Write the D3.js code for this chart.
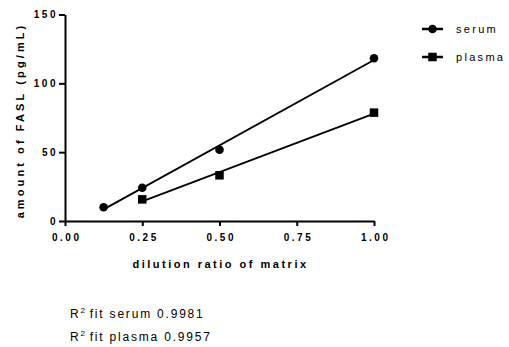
<!DOCTYPE html>
<html>
<head>
<meta charset="utf-8">
<script src="https://cdn.jsdelivr.net/npm/d3@7"></script>
<style>
  body { margin: 0; background: #fff; }
  svg { display: block; font-family: "Liberation Sans", Arial, sans-serif; }
</style>
</head>
<body>
<div id="chart"></div>
<script>
// data
const serumX = [0.125, 0.25, 0.5, 1.0];
const serumY = [10.0, 24.2, 51.8, 118.2];
const plasmaX = [0.25, 0.5, 1.0];
const plasmaY = [15.7, 33.2, 78.7];
const xTicks = [0, 0.25, 0.5, 0.75, 1.0];
const yTicks = [0, 50, 100, 150];
const fitLabels = ['serum 0.9981', 'plasma 0.9957'];

const width = 509, height = 347;
const margin = { left: 65, top: 14.5, right: 135, bottom: 126 };

const svg = d3.select('#chart').append('svg')
    .attr('width', width)
    .attr('height', height);

const x = d3.scaleLinear().domain([0, 1]).range([margin.left, 374]);
const y = d3.scaleLinear().domain([0, 150]).range([221, margin.top]);

// least squares line for a series
function fit(xs, ys) {
    const mx = d3.mean(xs), my = d3.mean(ys);
    let num = 0, den = 0;
    for (let i = 0; i < xs.length; i++) {
        num += (xs[i] - mx) * (ys[i] - my);
        den += (xs[i] - mx) * (xs[i] - mx);
    }
    const b = num / den, a = my - b * mx;
    const x0 = d3.min(xs), x1 = d3.max(xs);
    return [[x0, a + b * x0], [x1, a + b * x1]];
}

const line = d3.line().x(d => x(d[0])).y(d => y(d[1]));

// axes
const xAxis = d3.axisBottom(x).tickValues(xTicks).tickFormat(d3.format('.2f'))
    .tickSizeInner(5).tickSizeOuter(0).tickPadding(8);
const yAxis = d3.axisLeft(y).tickValues(yTicks)
    .tickSizeInner(6).tickSizeOuter(0).tickPadding(1);

const gx = svg.append('g').attr('transform', 'translate(0,221)').call(xAxis);
const gy = svg.append('g').attr('transform', `translate(${margin.left},0)`).call(yAxis);
[gx, gy].forEach(g => {
    g.select('.domain').attr('stroke', '#000').attr('stroke-width', 2);
    g.selectAll('.tick line').attr('stroke', '#000').attr('stroke-width', 2);
    g.selectAll('.tick text')
        .attr('fill', '#000')
        .attr('font-size', 10)
        .attr('font-weight', 'bold')
        .attr('font-family', '"Liberation Sans", Arial, sans-serif')
        .style('letter-spacing', '2.5px');
});
gx.selectAll('.tick text').attr('dx', '1.25px');

// axis titles
svg.append('text')
    .attr('x', 220.5).attr('y', 268)
    .attr('text-anchor', 'middle')
    .attr('font-size', 11).attr('font-weight', 'bold')
    .style('letter-spacing', '2.5px')
    .text('dilution ratio of matrix');

svg.append('text')
    .attr('transform', 'translate(24,120.5) rotate(-90)')
    .attr('text-anchor', 'middle')
    .attr('font-size', 11).attr('font-weight', 'bold')
    .style('letter-spacing', '3.1px')
    .text('amount of FASL (pg/mL)');

// fit lines
svg.append('path').attr('d', line(fit(serumX, serumY)))
    .attr('fill', 'none').attr('stroke', '#000').attr('stroke-width', 1.8);
svg.append('path').attr('d', line(fit(plasmaX, plasmaY)))
    .attr('fill', 'none').attr('stroke', '#000').attr('stroke-width', 1.8);

// markers
svg.selectAll('.serum').data(d3.zip(serumX, serumY)).join('circle')
    .attr('class', 'serum')
    .attr('cx', d => x(d[0])).attr('cy', d => y(d[1]))
    .attr('r', 4.3).attr('fill', '#000');

const sq = 8.5;
svg.selectAll('.plasma').data(d3.zip(plasmaX, plasmaY)).join('rect')
    .attr('class', 'plasma')
    .attr('x', d => x(d[0]) - sq / 2).attr('y', d => y(d[1]) - sq / 2)
    .attr('width', sq).attr('height', sq).attr('fill', '#000');

// legend
const legend = svg.append('g');
[['serum', 29], ['plasma', 57]].forEach(([name, ly], i) => {
    legend.append('line')
        .attr('x1', 422).attr('x2', 443).attr('y1', ly).attr('y2', ly)
        .attr('stroke', '#000').attr('stroke-width', 2.5);
    if (i === 0) {
        legend.append('circle').attr('cx', 432.5).attr('cy', ly).attr('r', 4.3).attr('fill', '#000');
    } else {
        legend.append('rect').attr('x', 432.5 - sq / 2).attr('y', ly - sq / 2)
            .attr('width', sq).attr('height', sq).attr('fill', '#000');
    }
    legend.append('text')
        .attr('x', 456).attr('y', ly + 4)
        .attr('font-size', 11)
        .style('letter-spacing', '2.3px')
        .text(name);
});

// R squared notes
fitLabels.forEach((t, i) => {
    const txt = svg.append('text')
        .attr('x', 70).attr('y', 318 + i * 23)
        .attr('font-size', 12)
        .style('letter-spacing', '1.8px');
    txt.append('tspan').text('R');
    txt.append('tspan').attr('dy', -5).attr('font-size', 8).text('2');
    txt.append('tspan').attr('dy', 5).attr('dx', 3).text('fit ' + t);
});
</script>
</body>
</html>
